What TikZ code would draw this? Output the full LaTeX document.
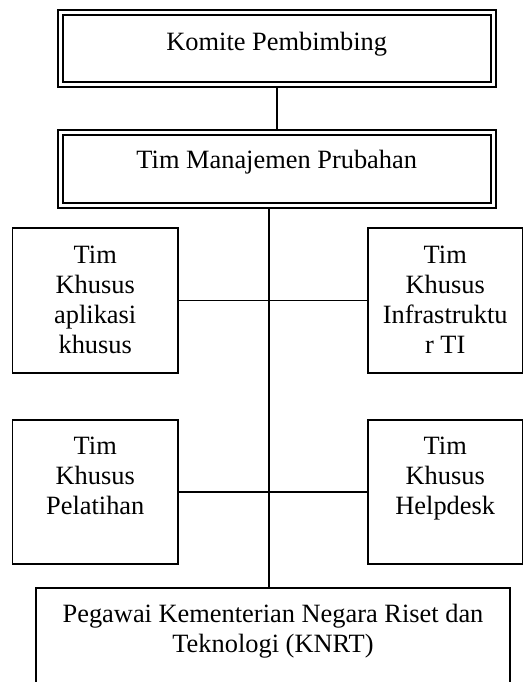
\documentclass[tikz,border=0pt]{standalone}
\usepackage{fontspec}
\setmainfont{Liberation Serif}
\usetikzlibrary{calc}
\newcommand\boxtext[4]{\parbox[c][#2][t]{#1}{\centering\vspace*{#3}\strut #4\par}}
\begin{document}
\begin{tikzpicture}[x=1pt,y=-1pt,
  every node/.style={font=\fontsize{26.4}{29.8}\selectfont, inner sep=0pt, outer sep=0pt},
  single/.style={draw, line width=1.6pt},
  dbl/.style={draw, line width=2pt, double, double distance=3pt},
  link/.style={line width=1.6pt}]
\useasboundingbox (0,0) rectangle (529,682);
\node[dbl] (kom) at (276.75,48.5) {\boxtext{432.5pt}{72pt}{17pt}{Komite Pembimbing}};
\node[dbl] (tim) at (276.75,168.5) {\boxtext{432.5pt}{73pt}{16pt}{Tim Manajemen Prubahan}};
\node[single] (k1) at (95.25,300.5) {\boxtext{165.5pt}{145pt}{15pt}{Tim\\Khusus\\aplikasi\\khusus}};
\node[single] (k2) at (445.25,300.5) {\boxtext{154.5pt}{145pt}{15pt}{Tim\\Khusus\\Infrastruktu\\r TI}};
\node[single] (k3) at (95.25,492) {\boxtext{165.5pt}{144pt}{14pt}{Tim\\Khusus\\Pelatihan}};
\node[single] (k4) at (445.25,492) {\boxtext{154.5pt}{144pt}{14pt}{Tim\\Khusus\\Helpdesk}};
\node[single] (bot) at (273,639) {\boxtext{474pt}{102pt}{14pt}{Pegawai Kementerian Negara Riset dan\\Teknologi (KNRT)}};
\draw[link, shorten <=3.5pt, shorten >=3.5pt] (kom.south) -- (tim.north);
\coordinate (trunk) at ($(tim.south)+(-7.75,3.5)$);
\draw[link] (trunk) -- (trunk |- bot.north);
\draw[link] (k1.east) -- (k2.west);
\draw[link] (k3.east) -- (k4.west);
\end{tikzpicture}
\end{document}
